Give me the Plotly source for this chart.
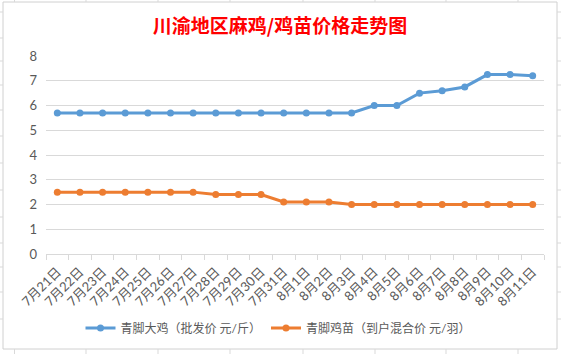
import plotly.graph_objects as go

# ---- data ----
categories = ["7月21日", "7月22日", "7月23日", "7月24日", "7月25日", "7月26日", "7月27日",
              "7月28日", "7月29日", "7月30日", "7月31日", "8月1日", "8月2日", "8月3日",
              "8月4日", "8月5日", "8月6日", "8月7日", "8月8日", "8月9日", "8月10日", "8月11日"]
chicken_price = [5.7, 5.7, 5.7, 5.7, 5.7, 5.7, 5.7, 5.7, 5.7, 5.7, 5.7, 5.7, 5.7, 5.7,
                 6.0, 6.0, 6.5, 6.6, 6.75, 7.25, 7.25, 7.2]
chick_price = [2.5, 2.5, 2.5, 2.5, 2.5, 2.5, 2.5, 2.4, 2.4, 2.4, 2.1, 2.1, 2.1,
               2.0, 2.0, 2.0, 2.0, 2.0, 2.0, 2.0, 2.0, 2.0]
series_names = ["青脚大鸡（批发价 元/斤）", "青脚鸡苗（到户混合价 元/羽）"]
title_text = "川渝地区麻鸡/鸡苗价格走势图"
y_ticks = [0, 1, 2, 3, 4, 5, 6, 7, 8]

# ---- layout constants (pixels) ----
W, H = 561, 354
ML, MR, MT, MB = 46, 17, 56, 100
PW, PH = W - ML - MR, H - MT - MB
GRID = "#d9d9d9"
TXT = "#595959"
FONT = "Lato, 'Noto Sans CJK SC', sans-serif"


def px_x(px):
    return (px - ML) / PW


def px_y(py):
    return (H - MB - py) / PH


fig = go.Figure()
fig.add_trace(go.Scatter(x=categories, y=chicken_price, name=series_names[0],
                         mode="lines+markers",
                         line=dict(color="#5B9BD5", width=3),
                         marker=dict(color="#5B9BD5", size=7)))
fig.add_trace(go.Scatter(x=categories, y=chick_price, name=series_names[1],
                         mode="lines+markers",
                         line=dict(color="#ED7D31", width=3),
                         marker=dict(color="#ED7D31", size=7)))

shapes = []
# chart-area border
shapes.append(dict(type="rect", xref="paper", yref="paper",
                   x0=px_x(3), x1=px_x(557), y0=px_y(349), y1=px_y(2),
                   line=dict(color="#d0d0d0", width=1), layer="below"))
# spreadsheet grid peeking out around the chart
col_lines = [14.5, 86, 158, 230, 303, 375, 446, 518]
row_lines = [12, 38, 61, 85, 110, 136, 163, 190, 217, 243, 267, 292, 319]
for cx in col_lines:
    shapes.append(dict(type="line", xref="paper", yref="paper",
                       x0=px_x(cx), x1=px_x(cx), y0=px_y(0), y1=px_y(2),
                       line=dict(color=GRID, width=1)))
    shapes.append(dict(type="line", xref="paper", yref="paper",
                       x0=px_x(cx), x1=px_x(cx), y0=px_y(349), y1=px_y(354),
                       line=dict(color=GRID, width=1)))
for ry in row_lines:
    shapes.append(dict(type="line", xref="paper", yref="paper",
                       x0=px_x(0), x1=px_x(3), y0=px_y(ry), y1=px_y(ry),
                       line=dict(color=GRID, width=1)))
    shapes.append(dict(type="line", xref="paper", yref="paper",
                       x0=px_x(557), x1=px_x(561), y0=px_y(ry), y1=px_y(ry),
                       line=dict(color=GRID, width=1)))

fig.update_layout(
    width=W, height=H,
    margin=dict(l=ML, r=MR, t=MT, b=MB),
    paper_bgcolor="white", plot_bgcolor="white",
    font=dict(family=FONT, size=12, color=TXT),
    title=dict(text="<b>" + title_text + "</b>", x=280 / W, xanchor="center",
               y=1 - 26 / H, yanchor="middle",
               font=dict(family="'Noto Sans CJK SC', sans-serif", size=19, color="#FF0000")),
    showlegend=True,
    legend=dict(orientation="h", x=px_x(278), xanchor="center",
                y=px_y(328), yanchor="middle",
                font=dict(family=FONT, size=12, color=TXT),
                bgcolor="rgba(0,0,0,0)"),
    xaxis=dict(type="category", showgrid=False, showline=True, linecolor=GRID,
               linewidth=1, ticks="outside", tickson="boundaries", ticklen=5,
               tickcolor=GRID, tickangle=-45, zeroline=False,
               ticklabelstandoff=4,
               tickfont=dict(family=FONT, size=13, color=TXT),
               range=[-0.5, len(categories) - 0.5]),
    yaxis=dict(range=[0, 8], tickvals=y_ticks, showgrid=True, gridcolor=GRID,
               gridwidth=1, zeroline=False, showline=False, ticks="",
               ticklabelstandoff=8,
               tickfont=dict(family=FONT, size=13, color=TXT)),
    shapes=shapes,
)

fig.write_html("out.html")
